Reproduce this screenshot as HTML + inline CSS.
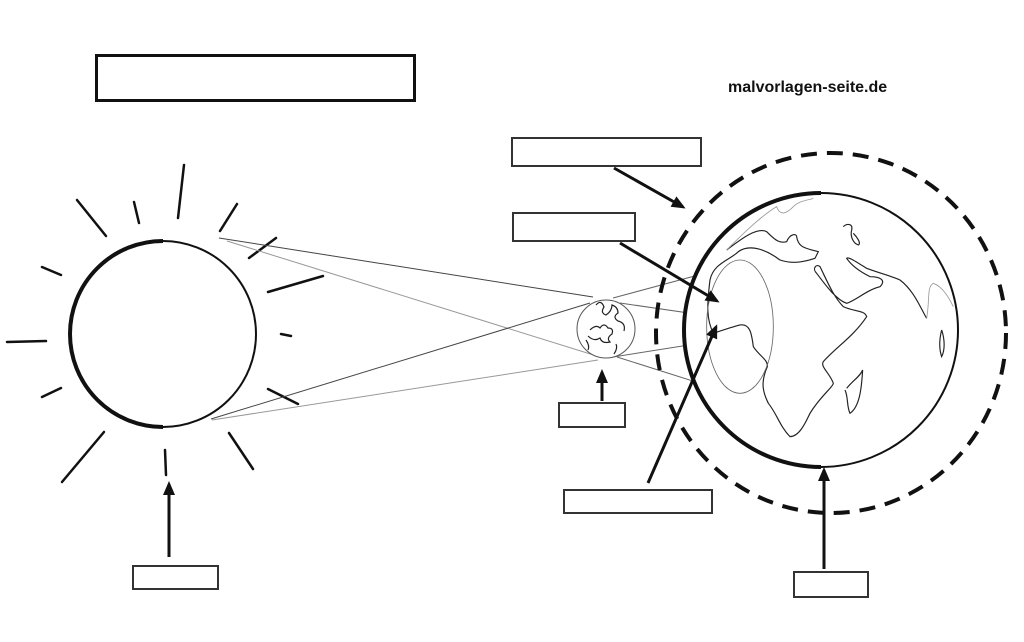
<!DOCTYPE html>
<html><head><meta charset="utf-8"><style>html,body{margin:0;padding:0;background:#fff}svg{display:block}</style></head>
<body>
<svg width="1024" height="642" viewBox="0 0 1024 642" xmlns="http://www.w3.org/2000/svg">
<rect width="1024" height="642" fill="#fff"/>
<rect x="96.5" y="55.5" width="318" height="45" fill="none" stroke="#111" stroke-width="3"/>
<text x="728" y="92" font-family="Liberation Sans, sans-serif" font-weight="bold" font-size="16" fill="#111">malvorlagen-seite.de</text>

<!-- sun -->
<circle cx="163" cy="334" r="93" fill="none" stroke="#111" stroke-width="2"/>
<path d="M163,241 A93,93 0 0 0 163,427" fill="none" stroke="#111" stroke-width="4"/>
<g stroke="#111" stroke-linecap="round" stroke-width="2.5">
<line x1="77" y1="200" x2="106" y2="236"/><line x1="134" y1="202" x2="139" y2="223"/>
<line x1="184" y1="165" x2="178" y2="218"/><line x1="237" y1="204" x2="220" y2="231"/>
<line x1="276" y1="238" x2="249" y2="258"/><line x1="323" y1="276" x2="268" y2="292"/>
<line x1="42" y1="267" x2="61" y2="275"/><line x1="7" y1="342" x2="46" y2="341"/>
<line x1="281" y1="334" x2="291" y2="336"/><line x1="42" y1="397" x2="61" y2="388"/>
<line x1="268" y1="389" x2="298" y2="404"/><line x1="104" y1="432" x2="62" y2="482"/>
<line x1="165" y1="450" x2="166" y2="475"/><line x1="229" y1="433" x2="253" y2="469"/>
</g>
<!-- rays -->
<g fill="none" stroke-width="1">
<line x1="219" y1="238" x2="593" y2="297" stroke="#444"/>
<line x1="227" y1="241" x2="600" y2="357" stroke="#999"/>
<line x1="211" y1="419" x2="590" y2="303" stroke="#444"/>
<line x1="212" y1="420" x2="598" y2="360" stroke="#999"/>
<line x1="613" y1="298" x2="717" y2="270" stroke="#666"/>
<line x1="620" y1="303" x2="723" y2="318" stroke="#666"/>
<line x1="613" y1="357" x2="733" y2="338" stroke="#666"/>
<line x1="617" y1="357" x2="737" y2="395" stroke="#666"/>
</g>
<!-- moon -->
<circle cx="606" cy="329" r="29" fill="#fff" stroke="#555" stroke-width="1"/>
<path d="M596,305 q5,-6 8,2 q-4,6 2,8 q6,-4 6,-10 q6,2 6,8 q-6,4 0,8 q8,2 6,10 M590,330 q6,-6 10,-2 q4,-6 8,0 q6,0 4,6 q-6,4 -2,8 q-8,2 -10,-4 q-6,4 -12,-2 M614,354 q4,-6 2,-10 M586,340 q4,6 2,10" fill="none" stroke="#222" stroke-width="1.2"/>

<!-- dashed atmosphere -->
<ellipse cx="831" cy="333" rx="175" ry="180" fill="none" stroke="#111" stroke-width="4" stroke-dasharray="16,10"/>
<!-- earth -->
<circle cx="821" cy="330" r="137" fill="#fff" stroke="#111" stroke-width="2"/>
<path d="M821,193 A137,137 0 0 0 821,467" fill="none" stroke="#111" stroke-width="4"/>
<g transform="translate(680,180) scale(0.3333)" fill="none" stroke="#222" stroke-width="4">
<path d="M140,210 C180,180 230,140 260,155 C290,185 300,190 320,185 C330,160 350,160 350,170 C355,205 380,205 415,215 L405,235 C360,250 330,250 300,240 C260,210 210,190 175,215 C150,240 100,250 90,300 C80,380 80,420 100,460 C130,450 160,440 180,435 C210,430 215,460 220,500 C240,530 265,540 262,560 C240,610 250,640 265,670 C290,700 300,740 330,770 C360,770 380,720 390,700 C420,650 460,620 460,610 C450,580 420,560 430,545 C470,500 520,470 560,410 C555,390 520,395 490,380 C460,350 440,300 420,260 C410,250 395,265 410,280 C440,320 470,360 500,370 C530,360 560,330 600,320 C620,300 600,290 570,290 C530,270 510,250 500,235 C505,230 520,240 560,265 C600,280 640,290 660,300 C700,330 720,380 740,415" stroke-width="3.5"/>
<path d="M490,140 C500,130 520,130 515,150 C510,170 520,190 535,195 C545,190 530,170 520,160" stroke-width="3.5"/>
<path d="M500,625 C520,600 540,590 548,570 C545,620 540,680 510,700 C500,680 505,650 495,630" stroke-width="3.5"/>
<path d="M785,450 C795,480 795,510 785,530 C775,500 780,470 785,450" stroke-width="3.5"/>
<path d="M140,210 C180,170 240,110 290,80 C300,110 320,100 340,80 C360,60 390,60 400,55" stroke="#999" stroke-width="2.5"/>
<path d="M740,415 C750,360 740,320 760,310 C790,320 810,360 820,380" stroke="#999" stroke-width="2.5"/>
<ellipse cx="180" cy="440" rx="100" ry="200" stroke="#666" stroke-width="2.5"/>
</g>

<!-- label boxes -->
<g fill="#fff" stroke="#333" stroke-width="2">
<rect x="512" y="138" width="189" height="28"/>
<rect x="513" y="213" width="122" height="28"/>
<rect x="559" y="403" width="66" height="24"/>
<rect x="564" y="490" width="148" height="23"/>
<rect x="133" y="566" width="85" height="23"/>
<rect x="794" y="572" width="74" height="25"/>
</g>

<!-- arrows -->
<defs><marker id="ah" markerWidth="14" markerHeight="14" refX="11" refY="7" orient="auto" markerUnits="userSpaceOnUse"><path d="M0,1 L14,7 L0,13 z" fill="#111"/></marker></defs>
<g stroke="#111" stroke-width="3" marker-end="url(#ah)">
<line x1="614" y1="168" x2="683" y2="207"/>
<line x1="620" y1="243" x2="717" y2="301"/>
<line x1="648" y1="483" x2="716" y2="327"/>
<line x1="602" y1="401" x2="602" y2="372"/>
<line x1="169" y1="557" x2="169" y2="484"/>
<line x1="824" y1="569" x2="824" y2="470"/>
</g>
</svg>
</body></html>
